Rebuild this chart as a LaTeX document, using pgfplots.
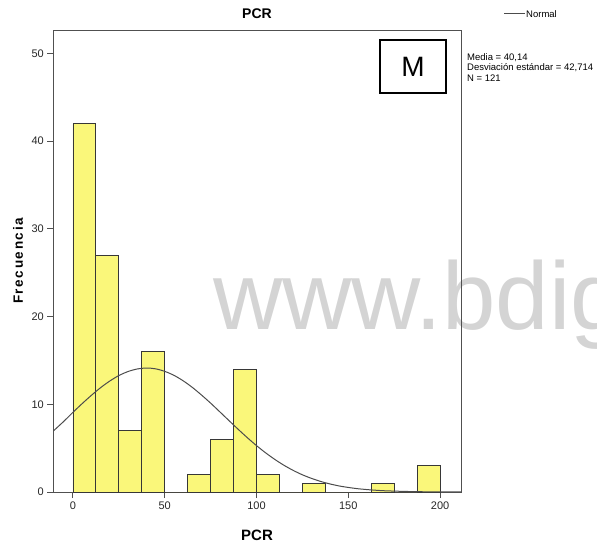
\documentclass[border=0pt]{standalone}
\usepackage{fontspec}
\setmainfont{Liberation Sans}
\usepackage{pgfplots}
\usepackage{pgfplotstable}
\pgfplotsset{compat=1.18}
\definecolor{barfill}{RGB}{250,247,122}
\definecolor{edge}{RGB}{55,55,55}
\definecolor{wmark}{RGB}{212,212,212}
\definecolor{axisgray}{RGB}{80,80,80}

% histogram: left edge of each 12.5-wide bin, count (last row closes the interval)
\pgfplotstableread{
x y
0 42
12.5 27
25 7
37.5 16
50 0
62.5 2
75 6
87.5 14
100 2
112.5 0
125 1
137.5 0
150 0
162.5 1
175 0
187.5 3
200 3
}\histo

% normal curve
\pgfplotstableread{
x y
-10.7 6.95
-5 8.05
0 9.08
5 10.07
10 11.01
15 11.88
20 12.64
25 13.27
30 13.73
35 14.02
40.14 14.13
45 14.04
50 13.75
55 13.30
60 12.68
65 11.93
70 11.06
75 10.13
80 9.14
85 8.14
90 7.15
95 6.19
100 5.29
105 4.46
110 3.71
115 3.04
120 2.46
125 1.96
130 1.55
135 1.20
140 0.92
145 0.69
150 0.52
155 0.38
160 0.28
165 0.20
170 0.14
180 0.07
190 0.03
200 0.01
211.4 0.004
}\normalcurve

\begin{document}
\begin{tikzpicture}[x=1pt,y=1pt]
\node[overlay, anchor=base west, text=wmark, inner sep=0pt,
      font=\fontsize{96}{96}\selectfont] at (213,221) {www.bdig};
\begin{axis}[
    at={(53.3pt,58pt)}, anchor=south west,
    scale only axis, width=407.7pt, height=461.5pt,
    xmin=-10.7, xmax=211.4, ymin=0, ymax=52.6,
    xtick={0,50,100,150,200}, ytick={0,10,20,30,40,50},
    xtick pos=lower, ytick pos=left, tick align=outside,
    major tick length=6pt,
    tick style={axisgray, line width=1pt},
    axis line style={axisgray, line width=1pt},
    ticklabel style={font=\fontsize{11}{13}\selectfont, text=black!85},
    /pgf/number format/assume math mode=true,
]
\addplot[ybar interval, fill=barfill, draw=edge, line width=0.8pt] table {\histo};
\addplot[smooth, no marks, draw=black!70, line width=1pt] table {\normalcurve};
\end{axis}
% M box
\draw[black, line width=1.2pt] (380,457) rectangle (446,510);
\node[font=\fontsize{28}{30}\selectfont] at (413,483.5) {M};
% titles and labels
\node[font=\fontsize{14}{16}\selectfont\bfseries] at (257,536) {PCR};
\node[font=\fontsize{15}{17}\selectfont\bfseries] at (257,15) {PCR};
\node[rotate=90, font=\fontsize{13.5}{15}\selectfont\bfseries\addfontfeature{LetterSpace=12}] at (18,289) {Frecuencia};
% legend
\draw[black!70, line width=1pt] (504,536) -- (525,536);
\node[anchor=west, inner sep=1pt, font=\fontsize{9.5}{11}\selectfont] at (525,536) {Normal};
\node[anchor=north west, align=left, inner sep=0pt,
      font=\fontsize{9.5}{10.5}\selectfont] at (467,497)
      {Media = 40,14\\ Desviación estándar = 42,714\\ N = 121};
\pgfresetboundingbox
\path[use as bounding box] (0,0) rectangle (597,550);
\end{tikzpicture}
\end{document}
